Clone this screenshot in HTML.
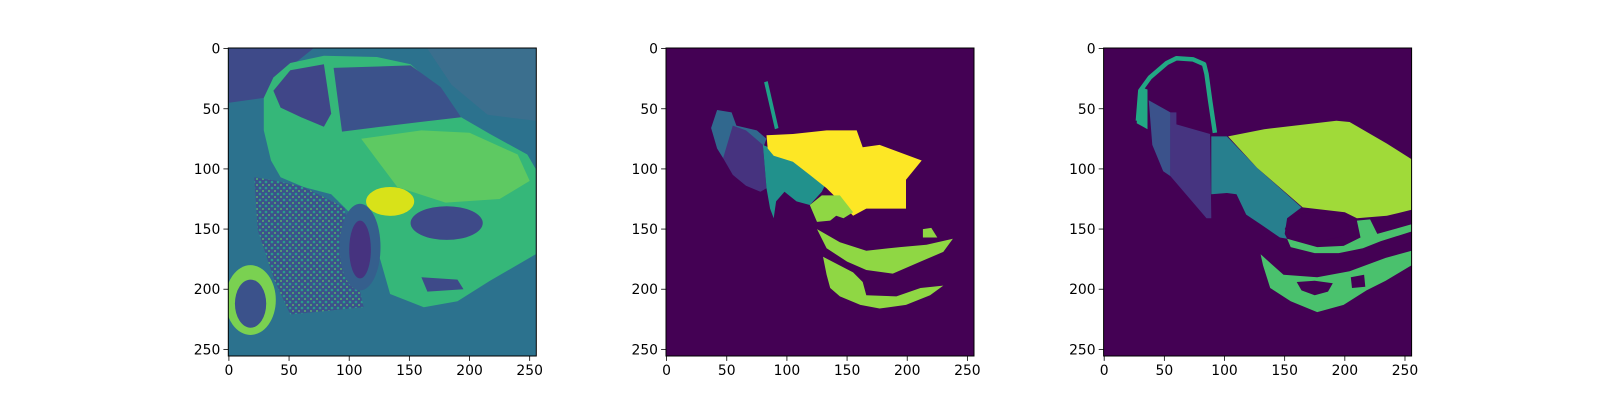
<!DOCTYPE html>
<html><head><meta charset="utf-8"><style>
html,body{margin:0;padding:0;background:#fff;width:1600px;height:400px;overflow:hidden}
svg text{font-family:"DejaVu Sans","Liberation Sans",sans-serif;font-size:13.9px;fill:#000}
</style></head><body>
<svg id="fig" width="1600" height="400" viewBox="0 0 1600 400" xmlns="http://www.w3.org/2000/svg"></svg>
<script>
// tick values (image pixel coords)
const xTicks = [0, 50, 100, 150, 200, 250];
const yTicks = [0, 50, 100, 150, 200, 250];
const imgSize = [256, 256];
const panelLefts = [228.3, 666.0, 1103.6];
const panelTop = 48;
const panelSide = 308;

// panel 1: approximate photo regions [name, color, points]
const photoRegions = [
  ['photo-top-stripes', '#3e4a89', [[0,0],[70,0],[55,12],[37,24],[29,41],[0,45]]],
  ['photo-right-car', '#3b6f8e', [[165,0],[255,0],[255,60],[215,55],[185,30]]],
  ['car-body', '#35b779', [[29,41],[37,24],[51,12],[79,6],[123,7],[151,13],[176,35],[193,57],[217,71],[248,88],[255,100],[255,171],[217,193],[190,210],[162,215],[134,204],[126,176],[118,154],[96,132],[85,121],[62,115],[43,107],[35,93],[29,68]]],
  ['car-hood', '#5ec962', [[110,75],[160,68],[200,70],[240,88],[250,110],[225,125],[180,128],[140,115]]],
  ['gravel', '#3b528b', [[21,107],[40,110],[62,115],[96,132],[107,193],[112,215],[51,221],[38,193],[24,151]]],
  ['windshield', '#3b528b', [[87,16],[151,14],[176,32],[193,57],[159,61],[126,65],[94,69]]],
  ['side-windows', '#404688', [[37,35],[51,18],[79,13],[85,54],[79,65],[60,57],[43,49]]],
  ['bumper-slot', '#3e4a89', [[160,190],[190,192],[195,200],[165,202]]]
];
// ellipses [name, color, cx, cy, rx, ry]
const photoEllipses = [
  ['highlight', '#d8e219', 134, 127, 20, 12],
  ['headlights', '#3e4a89', 181, 145, 30, 14],
  ['front-wheel', '#355f8d', 109, 165, 17, 36],
  ['front-wheel-hub', '#46337f', 109, 167, 9, 24],
  ['mirror', '#7ad151', 18, 209, 21, 29],
  ['mirror-inner', '#3b528b', 18, 212, 13, 20]
];

// panel 2: segmentation prediction
const seg2 = [
  ['seg-streak', '#1fa088', [[81,28],[84,27],[93,66],[90,67]]],
  ['seg-blue', '#31688e', [[42,51],[54,53],[58,64],[75,68],[83,75],[80,83],[64,83],[47,91],[42,83],[37,66]]],
  ['seg-purple', '#46337f', [[55,64],[66,68],[80,80],[83,116],[78,119],[66,114],[55,105],[47,91]]],
  ['seg-teal', '#21918c', [[80,80],[94,86],[116,97],[133,111],[129,119],[119,130],[108,127],[98,119],[91,127],[89,141],[86,133],[83,116]]],
  ['seg-yellow', '#fde725', [[83,72],[105,71],[133,68],[158,68],[163,82],[177,80],[212,93],[199,109],[199,133],[166,133],[155,139],[144,127],[133,116],[119,105],[105,94],[89,89],[84,83]]],
  ['seg-green-a', '#8fd744', [[119,130],[129,122],[144,122],[155,136],[147,141],[141,139],[136,143],[125,144]]],
  ['seg-green-b', '#8fd744', [[125,150],[144,161],[166,168],[194,165],[216,163],[238,158],[230,169],[211,177],[188,187],[166,184],[150,177],[133,166]]],
  ['seg-green-c', '#8fd744', [[213,150],[220,149],[225,157],[213,157]]],
  ['seg-green-d', '#8fd744', [[130,173],[155,186],[163,194],[166,205],[191,206],[211,199],[230,197],[219,205],[199,213],[177,216],[161,213],[144,206],[136,199],[133,188]]]
];

// panel 3: ground-truth segmentation
const seg3 = [
  ['gt-arch-base', '#22a884', [[27,62],[29,40],[33,33],[36,34],[36,67]]],
  ['gt-blue', '#3b528b', [[37,43],[55,53],[55,106],[49,102],[40,80],[38,55]]],
  ['gt-purple', '#463480', [[55,53],[60,53],[60,63],[88,71],[89,141],[85,141],[55,106]]],
  ['gt-teal', '#277f8e', [[89,73],[102,73],[127,99],[164,132],[152,141],[150,154],[152,158],[146,157],[130,146],[118,138],[110,121],[102,120],[89,121]]],
  ['gt-hood', '#a0da39', [[103,73],[133,67],[193,60],[204,61],[235,79],[255.5,92],[255.5,134],[235,139],[210,141],[200,136],[165,132],[127,99]]],
  ['gt-hole', '#440154', [[150,150],[155,140],[168,136],[185,136],[200,140],[203,148],[198,156],[180,160],[160,159]]],
  ['gt-ring', '#4ac16d', [[152,158],[177,165],[199,164],[213,157],[210,143],[221,142],[227,154],[255.5,146],[255.5,152],[230,160],[215,166],[195,170],[175,170],[155,165]]],
  ['gt-bumper', '#4ac16d', [[130,171],[149,188],[177,190],[204,185],[234,174],[255.5,168],[255.5,180],[234,193],[218,201],[199,213],[177,219],[155,210],[138,199],[132,180]]],
  ['gt-bumper-hole-a', '#440154', [[160,194],[175,193],[190,195],[186,202],[175,205],[164,201]]],
  ['gt-bumper-hole-b', '#440154', [[205,190],[216,188],[217,198],[206,199]]]
];
const gtArch = [[28,60],[30,35],[38,24],[52,12],[60,8],[74,9],[83,13],[85,21],[88,43],[92,70]];

const NS = 'http://www.w3.org/2000/svg';
const svg = document.getElementById('fig');
function mk(tag, attrs, parent) {
  const el = document.createElementNS(NS, tag);
  for (const k in attrs) el.setAttribute(k, attrs[k]);
  (parent || svg).appendChild(el);
  return el;
}
function xScale(p, v) { return panelLefts[p] + (v + 0.5) * panelSide / imgSize[0]; }
function yScale(v) { return panelTop + (v + 0.5) * panelSide / imgSize[1]; }
function pts(p, arr) { return arr.map(q => xScale(p, q[0]).toFixed(1) + ',' + yScale(q[1]).toFixed(1)).join(' '); }

const defs = mk('defs', {});
const clipNames = ['photo-panel', 'prediction-panel', 'ground-truth-panel'];
const bgs = ['#2c728e', '#440154', '#440154'];
const groups = [];
for (let p = 0; p < 3; p++) {
  const cp = mk('clipPath', {id: 'c' + p}, defs);
  mk('rect', {x: panelLefts[p], y: panelTop, width: panelSide, height: panelSide}, cp);
  const g = mk('g', {'clip-path': 'url(#c' + p + ')'});
  
  
  const bg = mk('rect', {x: panelLefts[p], y: panelTop, width: panelSide, height: panelSide, fill: bgs[p]}, g);
  
  
  groups.push(g);
}
// gravel pattern
const pat = mk('pattern', {id: 'grav', width: 6, height: 6, patternUnits: 'userSpaceOnUse'}, defs);
mk('rect', {width: 6, height: 6, fill: '#3b528b'}, pat);
mk('circle', {cx: 2, cy: 2, r: 1.3, fill: '#2a9d8a'}, pat);
mk('circle', {cx: 5, cy: 5, r: 0.9, fill: '#5ec962'}, pat);

photoRegions.forEach(r => {
  const el = mk('polygon', {points: pts(0, r[2]), fill: r[0] === 'gravel' ? 'url(#grav)' : r[1]}, groups[0]);
  
  
});
photoEllipses.forEach(e => {
  const k = panelSide / imgSize[0];
  const el = mk('ellipse', {cx: xScale(0, e[2]), cy: yScale(e[3]), rx: e[4] * k, ry: e[5] * k, fill: e[1]}, groups[0]);
  
  
});
seg2.forEach(r => {
  const el = mk('polygon', {points: pts(1, r[2]), fill: r[1]}, groups[1]);
  
  
});
const arch = mk('polyline', {points: pts(2, gtArch), fill: 'none', stroke: '#22a884', 'stroke-width': 4.5, 'stroke-linejoin': 'round'}, groups[2]);


seg3.forEach(r => {
  const el = mk('polygon', {points: pts(2, r[2]), fill: r[1]}, groups[2]);
  
  
});

// axes
for (let p = 0; p < 3; p++) {
  const frame = mk('rect', {x: panelLefts[p], y: panelTop, width: panelSide, height: panelSide, fill: 'none', stroke: '#000', 'stroke-width': 1});
  
  
  const bottom = panelTop + panelSide;
  xTicks.forEach(t => {
    const x = xScale(p, t);
    const tk = mk('line', {x1: x, x2: x, y1: bottom, y2: bottom + 4.9, stroke: '#000', 'stroke-width': 0.8});
    
    
    const lb = mk('text', {x: x, y: bottom + 19, 'text-anchor': 'middle'});
    lb.textContent = t;
    
    
  });
  yTicks.forEach(t => {
    const y = yScale(t);
    const tk = mk('line', {x1: panelLefts[p] - 4.9, x2: panelLefts[p], y1: y, y2: y, stroke: '#000', 'stroke-width': 0.8});
    
    
    const lb = mk('text', {x: panelLefts[p] - 8, y: y + 5, 'text-anchor': 'end'});
    lb.textContent = t;
    
    
  });
}
</script>
</body></html>
